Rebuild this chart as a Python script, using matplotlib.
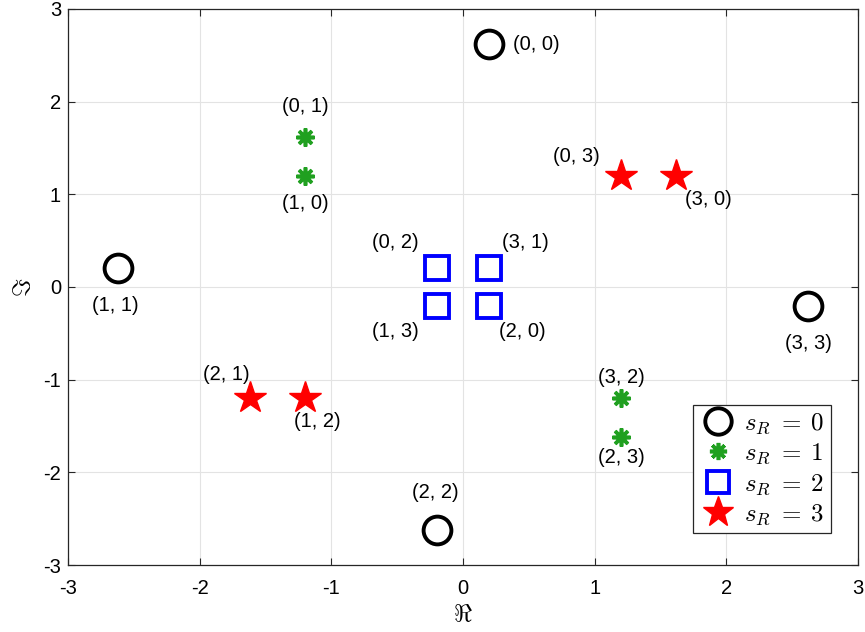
import matplotlib
matplotlib.use("Agg")
import matplotlib.pyplot as plt

plt.rcParams['font.family'] = ['Liberation Sans', 'DejaVu Sans']
plt.rcParams['mathtext.fontset'] = 'cm'
plt.rcParams['axes.unicode_minus'] = False

# constellation points per s_R group
re0 = [0.2, -2.62, -0.2, 2.62]
im0 = [2.62, 0.2, -2.62, -0.2]
lab0 = ['(0, 0)', '(1, 1)', '(2, 2)', '(3, 3)']

re1 = [-1.2, -1.2, 1.2, 1.2]
im1 = [1.62, 1.2, -1.2, -1.62]
lab1 = ['(0, 1)', '(1, 0)', '(3, 2)', '(2, 3)']

re2 = [-0.2, 0.2, -0.2, 0.2]
im2 = [0.2, 0.2, -0.2, -0.2]
lab2 = ['(0, 2)', '(3, 1)', '(1, 3)', '(2, 0)']

re3 = [1.2, 1.62, -1.62, -1.2]
im3 = [1.2, 1.2, -1.2, -1.2]
lab3 = ['(0, 3)', '(3, 0)', '(2, 1)', '(1, 2)']

# label offsets (points) relative to each marker
off0 = [(34, 0), (-2, -27), (-1, 27), (0, -27)]
off1 = [(0, 22), (0, -20), (0, 15), (0, -15)]
off2 = [(-30, 19), (26, 19), (-30, -19), (24, -19)]
off3 = [(-32, 14), (23, -17), (-17, 17), (9, -17)]

fig = plt.figure(figsize=(8.65, 6.32), dpi=100)
ax = fig.add_axes([0.0786, 0.106, 0.9134, 0.8798])

ax.plot(re0, im0, 'o', ls='none', mfc='none', mec='black', ms=20, mew=2.8, label=r'$s_R\;=\;0$')
ax.plot(re1, im1, marker=(8, 2, 0), ls='none', color='#20a020', mec='#20a020', ms=13, mew=2.6, label=r'$s_R\;=\;1$')
ax.plot(re2, im2, 's', ls='none', mfc='none', mec='#0000ff', ms=17, mew=2.8, label=r'$s_R\;=\;2$')
ax.plot(re3, im3, '*', ls='none', color='#ff0000', ms=24, label=r'$s_R\;=\;3$')

for xs, ys, labs, offs in [(re0, im0, lab0, off0), (re1, im1, lab1, off1),
                           (re2, im2, lab2, off2), (re3, im3, lab3, off3)]:
    for x, y, t, o in zip(xs, ys, labs, offs):
        ax.annotate(t, (x, y), xytext=o, textcoords='offset points',
                    ha='center', va='center', fontsize=14.5)

ax.set_xlim(-3, 3)
ax.set_ylim(-3, 3)
ax.set_xticks(range(-3, 4))
ax.set_yticks(range(-3, 4))
ax.grid(True, color='#e3e3e3', lw=0.8)
ax.set_axisbelow(True)
ax.tick_params(direction='in', labelsize=14.5, length=5, colors='#262626', top=True, right=True, pad=5)
ax.tick_params(axis='x', pad=10)
ax.tick_params(labelcolor='black')
for s in ax.spines.values():
    s.set_color('#262626')
    s.set_linewidth(0.9)

ax.set_xlabel(r'$\Re$', fontsize=18, labelpad=3)
ax.set_ylabel(r'$\Im$', fontsize=18, labelpad=6)

leg = ax.legend(loc='lower right', bbox_to_anchor=(0.981, 0.035), fontsize=18,
                fancybox=False, edgecolor='#262626', framealpha=1,
                handletextpad=0.3, borderpad=0.25, labelspacing=0.2,
                handlelength=1.5, markerscale=0.95)
leg.get_frame().set_linewidth(0.9)

fig.savefig('out.png', dpi=100)
